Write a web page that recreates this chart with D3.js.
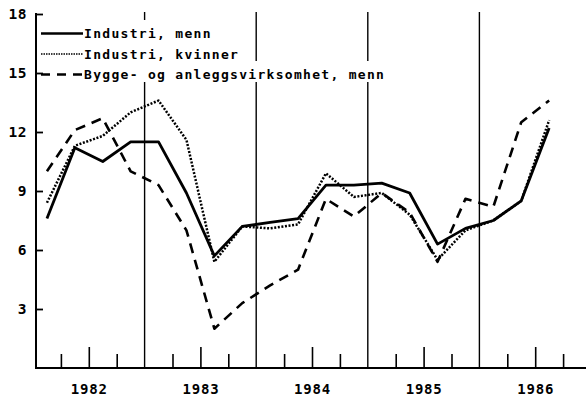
<!DOCTYPE html>
<html>
<head>
<meta charset="utf-8">
<script src="https://cdn.jsdelivr.net/npm/d3@7"></script>
<style>
	body { margin: 0; background: #fff; }
	svg text { font-family: "DejaVu Sans Mono", monospace; font-weight: bold; fill: #000; }
</style>
</head>
<body>
<svg id="chart" width="586" height="404"></svg>
<script>
'use strict';

// quarters 1982 Q1 .. 1986 Q3
var quarters = ['1982K1', '1982K2', '1982K3', '1982K4', '1983K1', '1983K2', '1983K3', '1983K4',
	'1984K1', '1984K2', '1984K3', '1984K4', '1985K1', '1985K2', '1985K3', '1985K4',
	'1986K1', '1986K2', '1986K3'];
var industriMenn = [7.6, 11.2, 10.5, 11.5, 11.5, 8.9, 5.7, 7.2, 7.4, 7.6, 9.3, 9.3, 9.4, 8.9, 6.3, 7.1, 7.5, 8.5, 12.2];
var industriKvinner = [8.4, 11.3, 11.8, 13.0, 13.6, 11.6, 5.4, 7.2, 7.1, 7.3, 9.9, 8.7, 8.9, 7.8, 5.5, 7.0, 7.5, 8.5, 12.6];
var byggeMenn = [10.0, 12.1, 12.7, 10.0, 9.3, 7.0, 2.0, 3.3, 4.2, 5.0, 8.6, 7.7, 8.9, 7.9, 5.4, 8.6, 8.2, 12.5, 13.6];
var years = [1982, 1983, 1984, 1985, 1986];
var yTicks = [3, 6, 9, 12, 15, 18];
var seriesNames = ['Industri, menn', 'Industri, kvinner', 'Bygge- og anleggsvirksomhet, menn'];

var series = [
	{ name: seriesNames[0], values: industriMenn, dash: null, width: 2.8 },
	{ name: seriesNames[1], values: industriKvinner, dash: '2,1.6', width: 2.5 },
	{ name: seriesNames[2], values: byggeMenn, dash: '10,7', width: 2.6 }
];

var time = function(q) {
	return +q.slice(0, 4) + (+q.slice(5) - 0.5) / 4;
};

var svg = d3.select('#chart');
var x = d3.scaleLinear().domain([1982, 1987]).range([33, 591]);
var y = d3.scaleLinear().domain([0, 18]).range([368, 14]);
var left = 36, bottom = 368, right = 586;

// year separators
svg.append('g').selectAll('line')
	.data(years.slice(1))
	.enter()
	.append('line')
	.attr('x1', function(d) { return x(d); })
	.attr('x2', function(d) { return x(d); })
	.attr('y1', y(18) - 2)
	.attr('y2', bottom)
	.style('stroke', '#000')
	.style('stroke-width', 1.4);

// quarter ticks
var quarterTicks = [];
years.forEach(function(yr) {
	quarterTicks.push(yr + 0.25, yr + 0.75);
});
svg.append('g')
	.attr('transform', 'translate(0,' + bottom + ')')
	.call(d3.axisBottom(x).tickValues(quarterTicks).tickSize(-14).tickFormat(''))
	.call(function(g) {
		g.select('.domain').remove();
		g.selectAll('line').style('stroke-width', 1.6);
	});

// mid-year ticks with year labels
svg.append('g')
	.attr('transform', 'translate(0,' + bottom + ')')
	.call(d3.axisBottom(x).tickValues(years.map(function(d) { return d + 0.5; }))
		.tickSize(-21).tickPadding(16)
		.tickFormat(function(d) { return Math.floor(d); }))
	.call(function(g) {
		g.select('.domain').remove();
		g.selectAll('line').style('stroke-width', 1.6);
		g.selectAll('text').style('font-size', '14px').style('letter-spacing', '0.8px');
	});

// y axis
svg.append('g')
	.attr('transform', 'translate(' + left + ',0)')
	.call(d3.axisLeft(y).tickValues(yTicks).tickSize(-7).tickPadding(9))
	.call(function(g) {
		g.select('.domain').remove();
		g.selectAll('line').style('stroke-width', 1.8);
		g.selectAll('text').style('font-size', '14.5px').style('letter-spacing', '0.5px');
	});

svg.append('line')
	.attr('x1', left).attr('x2', left)
	.attr('y1', y(18) - 1).attr('y2', bottom + 1)
	.style('stroke', '#000').style('stroke-width', 2);
svg.append('line')
	.attr('x1', left - 1).attr('x2', right)
	.attr('y1', bottom).attr('y2', bottom)
	.style('stroke', '#000').style('stroke-width', 2.2);

// series
var line = d3.line()
	.x(function(d, i) { return x(time(quarters[i])); })
	.y(function(d) { return y(d); });

svg.append('g').selectAll('path')
	.data(series)
	.enter()
	.append('path')
	.attr('d', function(d) { return line(d.values); })
	.style('fill', 'none')
	.style('stroke', '#000')
	.style('stroke-width', function(d) { return d.width; })
	.style('stroke-linejoin', 'round')
	.style('stroke-dasharray', function(d) { return d.dash; });

// legend
var legend = svg.append('g').selectAll('g')
	.data(series)
	.enter()
	.append('g')
	.attr('transform', function(d, i) { return 'translate(0,' + (38 + i * 20.5) + ')'; });

legend.append('text')
	.attr('x', 84)
	.attr('y', 0)
	.style('font-size', '13px')
	.style('letter-spacing', '1.3px')
	.text(function(d) { return d.name; })
	.each(function() {
		var bb = this.getBBox();
		d3.select(this.parentNode).insert('rect', 'text')
			.attr('x', bb.x - 1)
			.attr('y', -18)
			.attr('width', bb.width + 1)
			.attr('height', 21)
			.style('fill', '#fff');
	});

legend.append('line')
	.attr('x1', 41)
	.attr('x2', 83)
	.attr('y1', -4.5)
	.attr('y2', -4.5)
	.style('stroke', '#000')
	.style('stroke-width', function(d, i) { return i === 1 ? 1.4 : 2.4; })
	.style('stroke-dasharray', function(d, i) { return i === 1 ? '1.5,1' : (i === 2 ? '9,7' : null); });
</script>
</body>
</html>
